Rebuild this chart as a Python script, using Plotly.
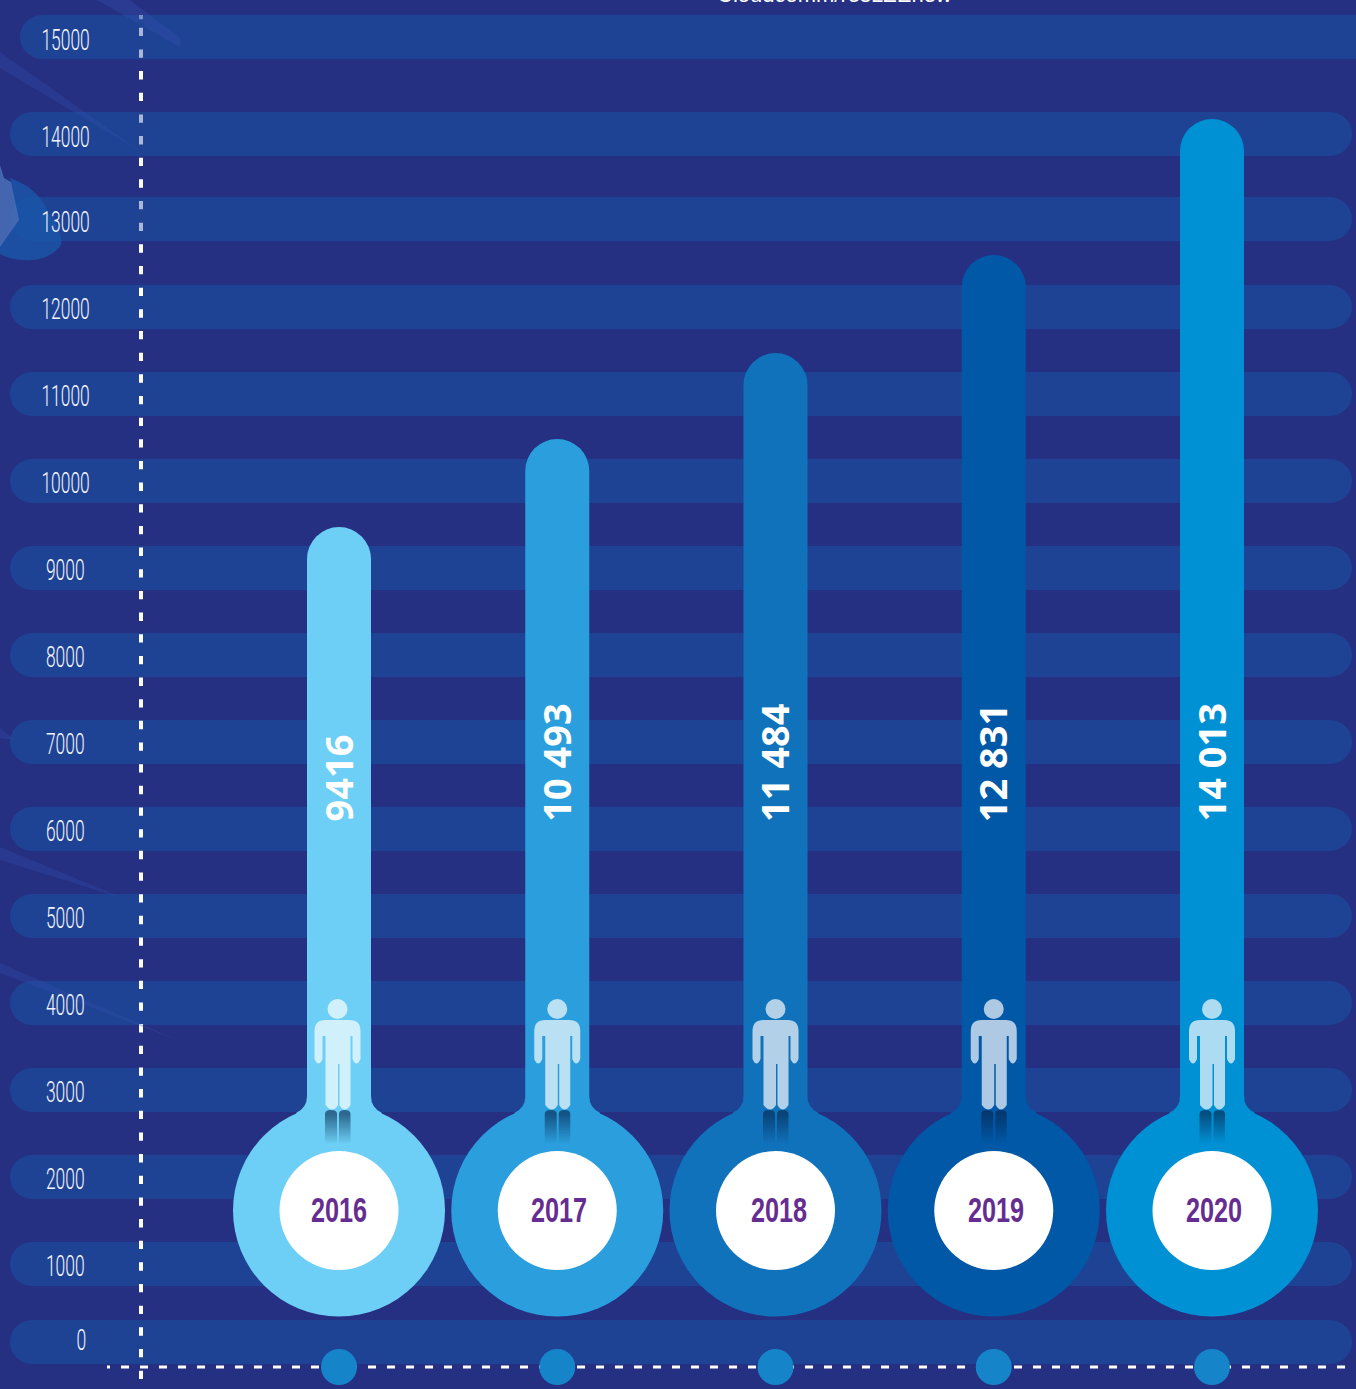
import plotly.graph_objects as go

# ---- data ----
years = [2016, 2017, 2018, 2019, 2020]
value_labels = ["9416", "10 493", "11 484", "12 831", "14 013"]
bar_tops = [9471, 10483, 11471, 12598, 14161]
bar_colors = ["#6DCFF6", "#2B9FDD", "#1172BC", "#0158A7", "#0091D5"]
tick_labels = ["15000", "14000", "13000", "12000", "11000", "10000", "9000", "8000",
               "7000", "6000", "5000", "4000", "3000", "2000", "1000", "0"]
band_levels = [15103, 13989, 13011, 12000, 11000, 10000, 9000, 8000,
               7000, 6000, 5000, 4000, 3000, 2000, 1000, 103]
bubble_level = [1615, 1615, 1615, 1615, 1615]
caption = "Cloudcomm/resLZEnew"

BG = "#263082"
BAND = "#1F4394"
STREAK = "#3350AE"
PX_PER_YEAR = 218.25
PX_PER_UNIT = 0.087
W, H = 1356, 1389


def X(px):
    return 2016 + (px - 339) / PX_PER_YEAR


def Y(py):
    return (1351 - py) / PX_PER_UNIT


def cx(year):
    return 339 + (year - 2016) * PX_PER_YEAR


band_left = [X(20)] + [X(10)] * 15
band_right = [X(1420)] + [X(1352)] * 15
mid_a, mid_b = X(300), X(1100)

fig = go.Figure()

# horizontal rounded bands: rounded left end, rounded right end, plain middle
band_common = dict(orientation="h", y=band_levels, width=44 / PX_PER_UNIT, hoverinfo="skip")
fig.add_trace(go.Bar(x=[r - mid_b for r in band_right], base=[mid_b] * 16,
                     marker=dict(color=BAND, cornerradius=22, line_width=0), **band_common))
fig.add_trace(go.Bar(x=[l - mid_a for l in band_left], base=[mid_a] * 16,
                     marker=dict(color=BAND, cornerradius=22, line_width=0), **band_common))
fig.add_trace(go.Bar(x=[mid_b - mid_a + 60 / PX_PER_YEAR] * 16, base=[mid_a - 30 / PX_PER_YEAR] * 16,
                     marker=dict(color=BAND, line_width=0), **band_common))

# thermometer stems
fig.add_trace(go.Bar(x=years, y=[t - b for t, b in zip(bar_tops, bubble_level)],
                     base=bubble_level, width=64 / PX_PER_YEAR,
                     marker=dict(color=bar_colors, cornerradius=32, line_width=0)))

# dashed axes
fig.add_trace(go.Scatter(x=[X(141), X(141)], y=[Y(1379), Y(25)], mode="lines",
                         line=dict(color="white", width=4, dash="8.33px,13.33px"), hoverinfo="skip"))
fig.add_trace(go.Scatter(x=[X(141), X(141)], y=[Y(19.3), Y(15)], mode="lines",
                         line=dict(color="white", width=4), hoverinfo="skip"))
fig.add_trace(go.Scatter(x=[X(1345), X(107)], y=[Y(1367), Y(1367)], mode="lines",
                         line=dict(color="white", width=3, dash="8px,11px"), hoverinfo="skip"))

# bulbs and year discs
fig.add_trace(go.Scatter(x=years, y=bubble_level, mode="markers",
                         marker=dict(size=212, color=bar_colors, line_width=0), hoverinfo="skip"))
fig.add_trace(go.Scatter(x=years, y=bubble_level, mode="markers",
                         marker=dict(size=119, color="white", line_width=0), hoverinfo="skip"))
fig.add_trace(go.Scatter(x=years, y=[Y(1367)] * 5, mode="markers",
                         marker=dict(size=36, color="#1684C9", line_width=0), hoverinfo="skip"))

shapes = []


def poly(points, color, opacity=1.0):
    d = "M" + " L".join(f"{X(a)},{Y(b)}" for a, b in points) + " Z"
    shapes.append(dict(type="path", path=d, xref="x", yref="y", fillcolor=color,
                       opacity=opacity, line_width=0, layer="above"))


def curve(cmds, color, opacity=1.0):
    parts = []
    for c in cmds:
        parts.append(c[0] + " ".join(f"{X(c[i])},{Y(c[i + 1])}" for i in range(1, len(c), 2)))
    shapes.append(dict(type="path", path=" ".join(parts) + " Z", xref="x", yref="y",
                       fillcolor=color, opacity=opacity, line_width=0, layer="above"))


# background streaks and blob
poly([(97, 0), (130, 0), (180, 38), (180, 47)], STREAK, 0.35)
poly([(0, 52), (0, 68), (138, 150)], STREAK, 0.3)
poly([(0, 728), (0, 738), (15, 740)], STREAK, 0.3)
poly([(0, 847), (0, 860), (125, 899)], STREAK, 0.3)
poly([(0, 963), (0, 973), (180, 1041)], STREAK, 0.3)
curve([("M", 10, 178), ("C", 32, 186, 42, 198, 48, 212), ("C", 56, 222, 63, 236, 61, 245),
       ("C", 52, 258, 36, 261, 24, 260), ("C", 14, 260, 6, 257, 0, 254), ("L", 0, 245), ("L", 18, 222)],
      "#1A58AC", 0.75)
curve([("M", 0, 165), ("L", 4, 178), ("L", 11, 182), ("L", 19, 220), ("L", 0, 247)], "#4A70B8", 0.85)

# paler dashes on the top three bands
for py in (37, 134, 219):
    shapes.append(dict(type="rect", xref="x", yref="y", x0=X(138), x1=X(144), y0=Y(py + 22), y1=Y(py - 22),
                       fillcolor=BAND, opacity=0.38, line_width=0, layer="above"))

# necks and people
for yr, col in zip(years, bar_colors):
    c = cx(yr)
    for s in (-1, 1):
        curve([("M", c + s * 32, 1096), ("Q", c + s * 32, 1108, c + s * 43, 1113),
               ("L", c + s * 30, 1128)], col)
    p = c - (1.5 if yr == 2016 else 0)
    # head
    shapes.append(dict(type="circle", xref="x", yref="y", x0=X(p - 10), x1=X(p + 10),
                       y0=Y(1019), y1=Y(999), fillcolor="white", opacity=0.68, line_width=0, layer="above"))
    # body with arms and legs
    curve([("M", p - 23, 1031), ("Q", p - 23, 1020, p - 12, 1020), ("L", p + 12, 1020),
           ("Q", p + 23, 1020, p + 23, 1031), ("L", p + 23, 1059),
           ("Q", p + 19, 1068, p + 15, 1059), ("L", p + 15, 1036), ("L", p + 13, 1036),
           ("L", p + 13, 1105), ("Q", p + 7, 1114, p + 2, 1105), ("L", p + 2, 1064), ("L", p + 0.5, 1064),
           ("L", p + 0.5, 1105), ("Q", p - 5, 1114, p - 12, 1105), ("L", p - 12, 1036), ("L", p - 15, 1036),
           ("L", p - 15, 1059), ("Q", p - 19, 1068, p - 23, 1059)], "white", 0.68)
    # fading reflection of the legs
    for leg0, leg1 in ((p - 12.5, p - 0.5), (p + 1.5, p + 13)):
        curve([("M", leg0, 1114), ("Q", leg0, 1110, (leg0 + leg1) / 2, 1110), ("Q", leg1, 1110, leg1, 1114)],
              "#06264F", 0.62)
        steps = 15
        for i in range(steps):
            y0 = 1114 + i * 2
            shapes.append(dict(type="rect", xref="x", yref="y", x0=X(leg0), x1=X(leg1), y0=Y(y0 + 2), y1=Y(y0),
                               fillcolor="#06264F", opacity=0.62 * (1 - (i + 0.5) / steps),
                               line_width=0, layer="above"))

annotations = []
SANS = "Liberation Sans, sans-serif"
tick_yshift = [-2, -3, -2, -1, -1, -1, -1, -1, -1, -1, -1, -1, -1, -1, -1, 3]
for lab, lev, sh in zip(tick_labels, band_levels, tick_yshift):
    annotations.append(dict(x=X(81 if lab == "0" else 65), y=lev, xref="x", yref="y", text=lab,
                            showarrow=False, yshift=sh,
                            font=dict(family="Roboto, sans-serif", size=30, color="#F2F6FC", weight=300)))
year_shift = [0, 2, 3, 2, 2]
for yr, lev, sh in zip(years, bubble_level, year_shift):
    annotations.append(dict(x=yr, y=lev, xref="x", yref="y", text=str(yr), showarrow=False, xshift=sh, yshift=1,
                            font=dict(family=SANS, size=35, color="#662D91", weight=700)))
for yr, lab in zip(years, value_labels):
    annotations.append(dict(x=yr, y=Y(824), xref="x", yref="y", text=f"<b>{lab}</b>", showarrow=False,
                            textangle=-90, yanchor="bottom", xanchor="center", xshift=-2,
                            font=dict(family="Open Sans, sans-serif", size=38, color="white")))
annotations.append(dict(x=X(834), y=Y(9), xref="x", yref="y", text=caption, showarrow=False, yanchor="bottom",
                        font=dict(family=SANS, size=22, color="white")))

fig.update_layout(
    width=W, height=H, margin=dict(l=0, r=0, t=0, b=0),
    paper_bgcolor=BG, plot_bgcolor=BG, showlegend=False, barmode="overlay",
    xaxis=dict(range=[X(0), X(W)], visible=False, fixedrange=True),
    yaxis=dict(range=[Y(H), Y(0)], visible=False, fixedrange=True),
    shapes=shapes, annotations=annotations,
)

# page margin off; narrow the tall axis and year digits in place
post = """
document.documentElement.style.margin = '0';
document.body.style.margin = '0';
document.body.style.background = '%s';
document.body.style.overflow = 'hidden';
function squeeze() {
  document.querySelectorAll('.annotation-text').forEach(function (t) {
    var s = t.textContent.trim();
    var size = parseFloat(t.style.fontSize);
    if (!/^[0-9]+$/.test(s) || size > 37 || t.hasAttribute('textLength')) return;
    var f = size > 32 ? 0.72 : 0.58;
    t.setAttribute('textLength', (t.getComputedTextLength() * f).toFixed(1));
    t.setAttribute('lengthAdjust', 'spacingAndGlyphs');
  });
}
squeeze();
var gd = document.querySelector('.plotly-graph-div');
if (gd && gd.on) gd.on('plotly_afterplot', squeeze);
setTimeout(squeeze, 100);
""" % BG
fig.write_html("out.html", config=dict(displayModeBar=False), post_script=post)
